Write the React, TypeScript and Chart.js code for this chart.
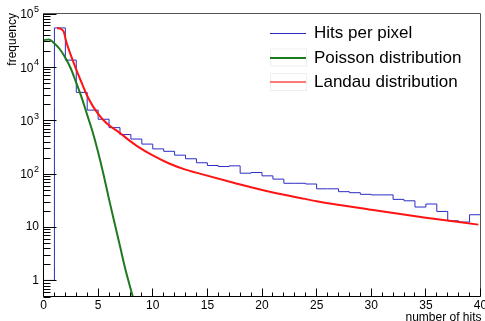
import React, { useEffect, useRef } from "react";
import { Chart, registerables } from "chart.js";

Chart.register(...registerables);

// ---- data ----
const histEdges = [0, 1, 2, 3, 4, 5, 6, 7, 8, 9, 10, 11, 12, 13, 14, 15, 16, 17, 18, 19, 20, 21, 22, 23, 24, 25, 26, 27, 28, 29, 30, 31, 32, 33, 34, 35, 36, 37, 38, 39];
const histUpperEdge = 40;
const histValues = [1, 53700, 13400, 3330, 1550, 1045, 728, 540, 445, 358, 291, 262, 222, 190, 160, 142, 136, 140, 102, 105, 91, 79, 66, 66, 64, 52, 52, 46, 44, 41, 40, 40, 33, 31, 23.7, 27, 19.6, 13.1, 12.4, 17];

const poissonX = [0, 0.5, 1.0, 1.5, 2.0, 2.5, 3.0, 3.5, 4.0, 4.5, 5.0, 5.5, 6.0, 6.5, 7.0, 7.5, 8.17];
const poissonY = [31600, 32700, 27500, 21400, 14800, 9330, 5010, 2630, 1260, 603, 251, 95, 33, 12, 4.4, 1.6, 0.5];

const landauX = [1.25, 1.6, 1.85, 2.1, 2.5, 3.0, 3.5, 4.0, 4.5, 5.0, 5.5, 6.0, 7.0, 8.0, 8.5, 10, 11.5, 13, 14.3, 17.4, 20.4, 23.5, 25, 30, 35, 39.8];
const landauY = [53700, 51300, 45700, 28800, 16600, 8910, 5010, 2880, 1860, 1320, 1000, 804, 575, 398, 335, 219, 155, 119, 100, 67.6, 47.3, 35.1, 30.5, 21.1, 15, 11.1];

const xTickValues = [0, 5, 10, 15, 20, 25, 30, 35, 40];
const yTickValues = [1, 10, 100, 1000, 10000, 100000];
const yTickBase = ["1", "10", "10", "10", "10", "10"];
const yTickExp = ["", "", "2", "3", "4", "5"];

const seriesLabels = ["Hits per pixel", "Poisson distribution", "Landau distribution"];
const xTitle = "number of hits";
const yTitle = "frequency";

const FONT = "'Liberation Sans', Arial, Helvetica, sans-serif";
const BLUE = "#2c2cc4";
const GREEN = "#1e7a1e";
const RED = "#ff1414";

const rootStylePlugin = {
  id: "rootStyle",
  afterDraw(chart: any) {
    const ctx: CanvasRenderingContext2D = chart.ctx;
    const { left, right, top, bottom } = chart.chartArea;
    const xs = chart.scales.x;
    const ys = chart.scales.y;
    ctx.save();

    // frame
    ctx.lineWidth = 1;
    ctx.strokeStyle = "#555555";
    ctx.beginPath();
    ctx.moveTo(left, top);
    ctx.lineTo(right, top);
    ctx.lineTo(right, bottom);
    ctx.stroke();
    ctx.strokeStyle = "#000000";
    ctx.beginPath();
    ctx.moveTo(left, top);
    ctx.lineTo(left, bottom);
    ctx.lineTo(right, bottom);
    ctx.stroke();

    // y ticks (log, minor 2..9)
    const yMin = ys.min;
    const yMax = ys.max;
    ctx.beginPath();
    for (let d = -1; d <= 5; d++) {
      for (let m = 1; m <= 9; m++) {
        const v = m * Math.pow(10, d);
        if (v < yMin * 0.999 || v > yMax * 1.001) continue;
        const y = Math.round(ys.getPixelForValue(v)) + 0.5;
        const len = m === 1 ? 13 : 7;
        ctx.moveTo(left, y);
        ctx.lineTo(left + len, y);
      }
    }
    // x ticks
    for (let i = xs.min; i <= xs.max; i++) {
      const x = Math.round(xs.getPixelForValue(i) - 0.5) + 0.5;
      const len = i % 5 === 0 ? 8 : 4;
      ctx.moveTo(x, bottom);
      ctx.lineTo(x, bottom - len);
    }
    ctx.stroke();

    // x tick labels
    ctx.fillStyle = "#000";
    ctx.font = `12px ${FONT}`;
    ctx.textAlign = "center";
    ctx.textBaseline = "middle";
    xTickValues.forEach((v) => {
      ctx.fillText(String(v), xs.getPixelForValue(v), bottom + 9);
    });

    // y tick labels
    const labelRight = left - 4.5;
    yTickValues.forEach((v, i) => {
      const y = ys.getPixelForValue(v);
      const exp = yTickExp[i];
      if (exp) {
        ctx.font = `9px ${FONT}`;
        ctx.textAlign = "right";
        ctx.textBaseline = "middle";
        const w = ctx.measureText(exp).width;
        ctx.fillText(exp, labelRight, y - 4);
        ctx.font = `12px ${FONT}`;
        ctx.fillText(yTickBase[i], labelRight - w - 0.5, y + 1.5);
      } else {
        ctx.font = `12px ${FONT}`;
        ctx.textAlign = "right";
        ctx.textBaseline = "middle";
        ctx.fillText(yTickBase[i], labelRight, y);
      }
    });

    // axis titles
    ctx.font = `12px ${FONT}`;
    ctx.textAlign = "right";
    ctx.textBaseline = "alphabetic";
    ctx.fillText(xTitle, right + 1, bottom + 24);

    ctx.save();
    ctx.translate(16, top - 0.5);
    ctx.rotate(-Math.PI / 2);
    ctx.textAlign = "right";
    ctx.textBaseline = "alphabetic";
    ctx.fillText(yTitle, 0, 0);
    ctx.restore();

    // legend
    const legendY = [32.5, 57.5, 82];
    const lx0 = 270;
    const lx1 = 306;
    const tx = 314;
    const lineColors = [BLUE, GREEN, "#ff7a7a"];
    const lineWidths = [1, 2, 2];
    ctx.font = `17px ${FONT}`;
    ctx.textAlign = "left";
    ctx.textBaseline = "middle";
    seriesLabels.forEach((label, i) => {
      const y = legendY[i];
      if (i > 0) {
        ctx.strokeStyle = "#efefef";
        ctx.lineWidth = 1;
        ctx.strokeRect(lx0 + 0.5, y - 8.5, lx1 - lx0, 17);
      }
      ctx.strokeStyle = lineColors[i];
      ctx.lineWidth = lineWidths[i];
      ctx.beginPath();
      const yy = lineWidths[i] === 1 ? Math.round(y) + 0.5 : Math.round(y);
      ctx.moveTo(lx0, yy);
      ctx.lineTo(lx1, yy);
      ctx.stroke();
      ctx.fillStyle = "#000";
      ctx.fillText(label, tx, y + 0.5);
    });

    ctx.restore();
  },
};

export default function App() {
  const canvasRef = useRef<HTMLCanvasElement | null>(null);

  useEffect(() => {
    const canvas = canvasRef.current;
    if (!canvas) return;
    const histData = histEdges
      .map((e, i) => ({ x: e, y: histValues[i] }))
      .concat([{ x: histUpperEdge, y: histValues[histValues.length - 1] }]);
    const poissonData = poissonX.map((x, i) => ({ x, y: poissonY[i] }));
    const landauData = landauX.map((x, i) => ({ x, y: landauY[i] }));

    const chart = new Chart(canvas, {
      type: "line",
      data: {
        datasets: [
          {
            label: seriesLabels[0],
            data: histData,
            borderColor: BLUE,
            borderWidth: 1,
            stepped: "before",
            pointRadius: 0,
            fill: false,
            order: 3,
          },
          {
            label: seriesLabels[1],
            data: poissonData,
            borderColor: GREEN,
            borderWidth: 2,
            cubicInterpolationMode: "monotone",
            pointRadius: 0,
            fill: false,
            order: 2,
          },
          {
            label: seriesLabels[2],
            data: landauData,
            borderColor: RED,
            borderWidth: 2,
            cubicInterpolationMode: "monotone",
            pointRadius: 0,
            fill: false,
            order: 1,
          },
        ],
      },
      options: {
        animation: false,
        responsive: false,
        devicePixelRatio: 1,
        layout: { padding: { left: 43.5, right: 4.5, top: 13.5, bottom: 24.5 } },
        plugins: { legend: { display: false }, tooltip: { enabled: false } },
        scales: {
          x: { type: "linear", min: 0, max: 40, display: false },
          y: { type: "logarithmic", min: 0.5, max: 100000, display: false },
        },
      },
      plugins: [rootStylePlugin],
    } as any);
    return () => chart.destroy();
  }, []);

  return (
    <div style={{ position: "fixed", left: 0, top: 0, width: 485, height: 321, background: "#fff" }}>
      <canvas ref={canvasRef} width={485} height={321} style={{ display: "block", width: 485, height: 321 }} />
    </div>
  );
}
